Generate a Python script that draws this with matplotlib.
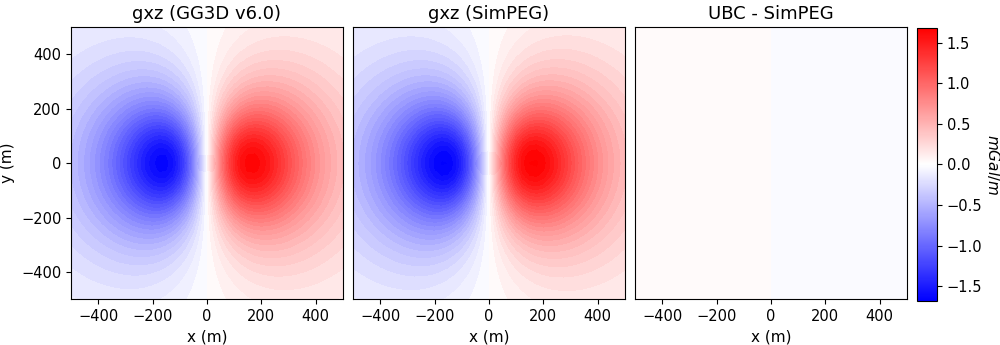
import numpy as np
import matplotlib
matplotlib.use("Agg")
import matplotlib.pyplot as plt
from matplotlib.cm import ScalarMappable
from matplotlib.colors import Normalize

# observation grid (m)
x_obs = np.linspace(-500, 500, 41)
y_obs = np.linspace(-500, 500, 41)

# anomaly: peaks at x = +/-165 m, y = 0
peak_x = 165.0          # m
peak_val = 1.66         # mGal/m
src_depth = 2 * peak_x  # for gxz of a buried mass, peak sits at x = depth/2
rel_misfit = -0.02      # (UBC - SimPEG) relative to the field

titles = ["gxz (GG3D v6.0)", "gxz (SimPEG)", "UBC - SimPEG"]
vmin, vmax = -1.68, 1.68


def gxz_field(x, y, z, amp):
    X, Y = np.meshgrid(x, y)
    r = np.sqrt(X**2 + Y**2 + z**2)
    g = X * z / r**5
    g_peak = (z / 2) * z / ((z / 2)**2 + z**2)**2.5
    return X, Y, amp * g / g_peak


X, Y, gxz_ubc = gxz_field(x_obs, y_obs, src_depth, peak_val)
gxz_simpeg = gxz_ubc * (1 - rel_misfit)
diff = gxz_ubc - gxz_simpeg

levels = np.linspace(vmin, vmax, 55)

fig = plt.figure(figsize=(10, 3.45), dpi=100)
lefts = [0.071, 0.353, 0.635]
axs = [fig.add_axes([l, 0.133, 0.272, 0.788]) for l in lefts]
cax = fig.add_axes([0.917, 0.128, 0.020, 0.791])

for ax, data, title in zip(axs, [gxz_ubc, gxz_simpeg, diff], titles):
    ax.contourf(X, Y, data, levels=levels, cmap="bwr", vmin=vmin, vmax=vmax,
                extend="both")
    ax.set_xlim(-500, 500)
    ax.set_ylim(-500, 500)
    ax.set_aspect("equal")
    ax.set_title(title, fontsize=13)
    ax.set_xlabel("x (m)", fontsize=11)
    ax.set_xticks([-400, -200, 0, 200, 400])
    ax.tick_params(labelsize=10.5)

axs[0].set_ylabel("y (m)", fontsize=11)
axs[0].set_yticks([-400, -200, 0, 200, 400])
axs[1].set_yticks([])
axs[2].set_yticks([])

sm = ScalarMappable(norm=Normalize(vmin=vmin, vmax=vmax), cmap="bwr")
cb = fig.colorbar(sm, cax=cax)
cb.set_ticks([-1.5, -1.0, -0.5, 0.0, 0.5, 1.0, 1.5])
cb.ax.tick_params(labelsize=10.5)
cb.set_label("$mGal/m$", rotation=270, labelpad=14, fontsize=11)

fig.savefig("out.png", dpi=100)
